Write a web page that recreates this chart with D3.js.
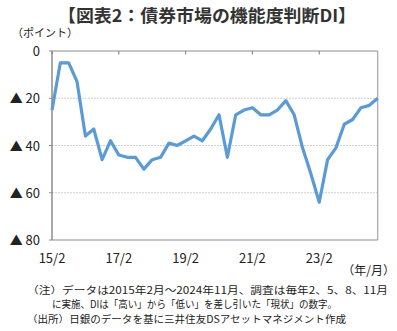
<!DOCTYPE html>
<html><head><meta charset="utf-8">
<script src="https://cdn.jsdelivr.net/npm/d3@7/dist/d3.min.js"></script>
<style>
html,body{margin:0;padding:0;background:#fff;}
svg{display:block;font-family:"Noto Sans CJK JP","Noto Sans",sans-serif;}
</style></head>
<body>
<svg id="chart" width="397" height="331"></svg>
<script>
const title = "【図表2：債券市場の機能度判断DI】";
const yUnit = "（ポイント）";
const xUnit = "（年/月）";
const notes = [
  "（注）データは2015年2月～2024年11月、調査は毎年2、5、8、11月",
  "に実施、DIは「高い」から「低い」を差し引いた「現状」の数字。",
  "（出所）日銀のデータを基に三井住友DSアセットマネジメント作成"
];
const periods = [];
for (let y = 15; y <= 24; y++) for (const m of [2,5,8,11]) periods.push(y + "/" + m);
const diValues = [-25,-5,-5,-13,-36,-33,-46,-38,-44,-45,-45,-50,-46,-45,-39,-40,-38,-36,-38,-33,
                  -27,-45,-27,-25,-24,-27,-27,-25,-21,-27,-41,-52,-64,-46,-41,-31,-29,-24,-23,-20];
const xTickLabels = ["15/2","17/2","19/2","21/2","23/2"];
const yTicks = [0,-20,-40,-60,-80];

const svg = d3.select("#chart");
const L = 52, R = 377.7, T = 51, B = 240;
const x = d3.scalePoint().domain(periods).range([L, R]);
const y = d3.scaleLinear().domain([0,-80]).range([T, B]);

// title
svg.append("text").attr("x", 58).attr("y", 22)
  .attr("font-size", 17.5).attr("font-weight","bold").attr("fill","#333")
  .attr("textLength", 298).attr("lengthAdjust","spacingAndGlyphs").text(title);
svg.append("text").attr("x", 12).attr("y", 37).attr("font-size", 11).attr("fill","#222").text(yUnit);

// gridlines
svg.append("g").selectAll("line").data([-20,-40,-60]).join("line")
  .attr("x1", L).attr("x2", R).attr("y1", d=>y(d)).attr("y2", d=>y(d))
  .attr("stroke","#d0d0d0").attr("stroke-width",1).attr("stroke-dasharray","2,1");

// frame
svg.append("line").attr("x1",L).attr("x2",R).attr("y1",T).attr("y2",T).attr("stroke","#8c8c8c").attr("stroke-width",1.2);
svg.append("line").attr("x1",R).attr("x2",R).attr("y1",T).attr("y2",B).attr("stroke","#a6a6a6").attr("stroke-width",1.2);
svg.append("line").attr("x1",L).attr("x2",R).attr("y1",B).attr("y2",B).attr("stroke","#8c8c8c").attr("stroke-width",1.2);
svg.append("line").attr("x1",L).attr("x2",L).attr("y1",T).attr("y2",B).attr("stroke","#8c8c8c").attr("stroke-width",1.5);

// top ticks
svg.append("g").selectAll("line").data(xTickLabels).join("line")
  .attr("x1", d=>x(d)).attr("x2", d=>x(d)).attr("y1", T).attr("y2", T+3.5)
  .attr("stroke","#8c8c8c").attr("stroke-width",1.2);
// y ticks
svg.append("g").selectAll("line").data(yTicks).join("line")
  .attr("x1", L-3).attr("x2", L).attr("y1", d=>y(d)).attr("y2", d=>y(d))
  .attr("stroke","#8c8c8c").attr("stroke-width",1);

// y labels
svg.append("g").selectAll("text").data(yTicks).join("text")
  .attr("x", 40).attr("y", d=>y(d)+5).attr("text-anchor","end")
  .attr("font-size", 13).attr("fill","#222")
  .text(d => d === 0 ? "0" : "▲ " + (-d));

// x labels
svg.append("g").selectAll("text").data(xTickLabels).join("text")
  .attr("x", d=>x(d)).attr("y", 263).attr("text-anchor","middle")
  .attr("font-size", 13).attr("fill","#222").text(d=>d);
svg.append("text").attr("x", 395).attr("y", 275).attr("text-anchor","end")
  .attr("font-size", 12).attr("fill","#222").text(xUnit);

// line
const line = d3.line().x((d,i)=>x(periods[i])).y(d=>y(d));
svg.append("path").datum(diValues).attr("d", line)
  .attr("fill","none").attr("stroke","#5B9BD5").attr("stroke-width",3.2)
  .attr("stroke-linejoin","round");

// notes
const nx = [27, 52, 27];
const ny = [293.5, 308, 322.5];
const nw = [361, 285, 319];
notes.forEach((t,i) => {
  svg.append("text").attr("x", nx[i]).attr("y", ny[i]).attr("font-size", 9.8)
    .attr("fill","#222").attr("textLength", nw[i]).attr("lengthAdjust","spacingAndGlyphs").text(t);
});
</script>
</body></html>
